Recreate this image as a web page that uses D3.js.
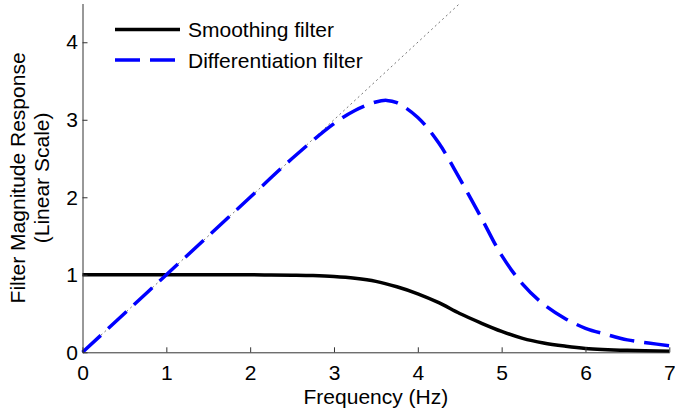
<!DOCTYPE html>
<html>
<head>
<meta charset="utf-8">
<script src="https://cdn.jsdelivr.net/npm/d3@7"></script>
<style>
  body { margin: 0; background: #fff; }
  svg { display: block; font-family: "Liberation Sans", Arial, sans-serif; }
  .axis path, .axis line { stroke: #333; stroke-width: 1; }
  .axis text { font-size: 21px; fill: #000; font-family: "Liberation Sans", Arial, sans-serif; }
</style>
</head>
<body>
<div class="chart"></div>
<script>
'use strict';
(function() {
  // Data
  var smoothX = [0, 0.5, 1, 1.5, 2, 2.25, 2.5, 2.75, 3, 3.25, 3.5, 3.75, 4, 4.25, 4.5, 4.75, 5, 5.25, 5.5, 5.75, 6, 6.5, 7];
  var smoothY = [1, 1, 1, 1, 1, 0.998, 0.995, 0.99, 0.978, 0.955, 0.915, 0.845, 0.755, 0.64, 0.5, 0.38, 0.27, 0.18, 0.12, 0.08, 0.05, 0.025, 0.015];
  var diffX = [0, 0.5, 1, 1.5, 2, 2.5, 3, 3.25, 3.5, 3.63, 3.75, 4, 4.25, 4.5, 4.75, 5, 5.25, 5.5, 5.75, 6, 6.25, 6.5, 6.75, 7];
  var diffY = [0, 0.5, 1, 1.5, 2, 2.5, 2.95, 3.12, 3.23, 3.25, 3.22, 3.03, 2.7, 2.24, 1.75, 1.25, 0.88, 0.62, 0.44, 0.31, 0.23, 0.16, 0.12, 0.085];
  var refX = [0, 4.5];
  var refY = [0, 4.5];
  var xTicks = [0, 1, 2, 3, 4, 5, 6, 7];
  var yTicks = [0, 1, 2, 3, 4];
  var seriesNames = ['Smoothing filter', 'Differentiation filter'];

  // Width and height
  var w = 675;
  var h = 418;
  var margin = {top: 3.5, right: 5.7, bottom: 65.7, left: 82.5};

  var xScale = d3.scaleLinear()
    .domain([0, 7])
    .range([margin.left, w - margin.right]);

  var yScale = d3.scaleLinear()
    .domain([0, 4.5])
    .range([h - margin.bottom, margin.top]);

  var svg = d3.select('.chart')
    .append('svg')
    .attr('width', w)
    .attr('height', h);

  var zip = function(xs, ys) {
    return xs.map(function(x, i) { return [x, ys[i]]; });
  };

  var line = d3.line()
    .x(function(d) { return xScale(d[0]); })
    .y(function(d) { return yScale(d[1]); })
    .curve(d3.curveCatmullRom.alpha(0.5));

  // Reference line y = x
  svg.append('path')
    .datum(zip(refX, refY))
    .attr('d', line)
    .attr('fill', 'none')
    .attr('stroke', '#777')
    .attr('stroke-width', 1)
    .attr('stroke-dasharray', '2,3');

  // Smoothing filter
  svg.append('path')
    .datum(zip(smoothX, smoothY))
    .attr('d', line)
    .attr('fill', 'none')
    .attr('stroke', '#000')
    .attr('stroke-width', 3.5);

  // Differentiation filter
  svg.append('path')
    .datum(zip(diffX, diffY))
    .attr('d', line)
    .attr('fill', 'none')
    .attr('stroke', '#0000ff')
    .attr('stroke-width', 3.5)
    .attr('stroke-dasharray', '25,10');

  // Axes
  var xAxis = d3.axisBottom(xScale)
    .tickValues(xTicks)
    .tickFormat(d3.format('d'))
    .tickSizeInner(-5)
    .tickSizeOuter(0)
    .tickPadding(13);

  var yAxis = d3.axisLeft(yScale)
    .tickValues(yTicks)
    .tickFormat(d3.format('d'))
    .tickSizeInner(-5)
    .tickSizeOuter(0)
    .tickPadding(4.5);

  svg.append('g')
    .attr('class', 'axis')
    .attr('transform', 'translate(0,' + (h - margin.bottom) + ')')
    .call(xAxis);

  svg.append('g')
    .attr('class', 'axis')
    .attr('transform', 'translate(' + margin.left + ',0)')
    .call(yAxis);

  // Axis titles
  svg.append('text')
    .attr('x', (margin.left + w - margin.right) / 2)
    .attr('y', 404)
    .attr('text-anchor', 'middle')
    .attr('font-size', 21)
    .text('Frequency (Hz)');

  var yLabel = svg.append('text')
    .attr('transform', 'translate(25,' + ((margin.top + h - margin.bottom) / 2) + ') rotate(-90)')
    .attr('text-anchor', 'middle')
    .attr('font-size', 21);
  yLabel.append('tspan').attr('x', 0).attr('y', 0).text('Filter Magnitude Response');
  yLabel.append('tspan').attr('x', 0).attr('y', 24).text('(Linear Scale)');

  // Legend
  var legend = svg.append('g').attr('class', 'legend');
  var legendStyles = [
    {stroke: '#000', dash: null},
    {stroke: '#0000ff', dash: '25,10'}
  ];
  seriesNames.forEach(function(name, i) {
    var y = 29.5 + i * 30.5;
    legend.append('line')
      .attr('x1', 115).attr('x2', 180)
      .attr('y1', y).attr('y2', y)
      .attr('stroke', legendStyles[i].stroke)
      .attr('stroke-width', 3.5)
      .attr('stroke-dasharray', legendStyles[i].dash);
    legend.append('text')
      .attr('x', 188)
      .attr('y', y + 7.8)
      .attr('font-size', 21)
      .text(name);
  });
})();
</script>
</body>
</html>
